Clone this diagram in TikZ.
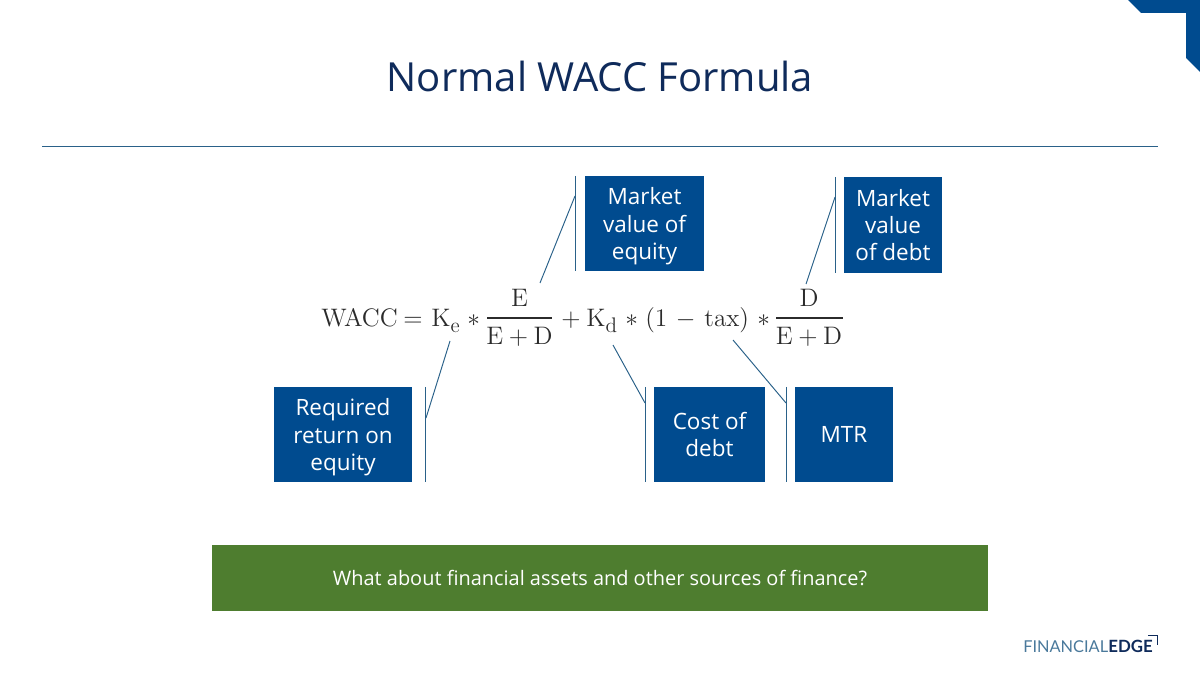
\documentclass[tikz,border=0pt]{standalone}
\usepackage[no-math]{fontspec}
\setmainfont{Open Sans}
\newfontfamily\logofont{Lato}
\definecolor{boxblue}{HTML}{004B8F}
\definecolor{leafgreen}{HTML}{4E7D2F}
\definecolor{navy}{HTML}{0F2B5B}
\definecolor{rulecol}{HTML}{2A6189}
\definecolor{formulacol}{HTML}{2B2B2B}
\newcommand{\nodp}[1]{\raisebox{0pt}[\height][0pt]{#1}}
\newcommand{\subtxt}[1]{\raisebox{-3.2pt}{\fontsize{11.5}{12}\selectfont$\mathrm{#1}$}}
\tikzset{
  labelbox/.style={fill=boxblue,text=white,inner sep=0,outer sep=0,align=center,font=\fontsize{12.8}{15.6}\selectfont},
  formula/.style={text=formulacol,inner sep=0,anchor=base west,font=\fontsize{14}{17}\selectfont},
  fracpart/.style={text=formulacol,inner sep=0,anchor=base,font=\fontsize{13.5}{17}\selectfont},
  barline/.style={draw=rulecol,line width=0.55pt},
}
\begin{document}
\begin{tikzpicture}[x=0.02cm,y=-0.02cm]
  \useasboundingbox (0,0) rectangle (1200,675);
  % corner and title
  \fill[boxblue] (1128,0) -- (1200,0) -- (1200,72) -- (1186,58) -- (1186,13) -- (1141,13) -- cycle;
  \node[text=navy,inner sep=0,font=\fontsize{22.8}{27}\selectfont] (title) at (600,76) {Normal WACC Formula};
  \coordinate (ruleL) at (42,146);
  \coordinate (ruleR) at (1158,146);
  \draw[barline,line width=0.4pt] (ruleL) -- (ruleR);
  % formula
  \node[formula] (wacc) at (321,327) {$\mathrm{WACC}$};
  \node[formula] (eq) at (403,327) {$=$};
  \node[formula] (ke) at (431,327) {$\mathrm{K}$\subtxt{e}};
  \node[formula] (star1) at (467,327) {$\ast$};
  \node[fracpart] (num1) at (519.5,307) {$\mathrm{E}$};
  \node[fracpart] (den1) at (519.5,345) {$\mathrm{E}+\mathrm{D}$};
  \coordinate (frac1L) at (487,318);
  \coordinate (frac1R) at (552,318);
  \draw[formulacol,line width=0.6pt] (frac1L) -- (frac1R);
  \node[formula] (plus) at (561,327) {$+$};
  \node[formula] (kd) at (586,327) {$\mathrm{K}$\subtxt{d}};
  \node[formula] (star2) at (625,327) {$\ast$};
  \node[formula] (tax) at (645,327) {$(1\kern1.7pt-\kern1.7pt\mathrm{tax})$};
  \node[formula] (star3) at (757,327) {$\ast$};
  \node[fracpart] (num2) at (809,307) {$\mathrm{D}$};
  \node[fracpart] (den2) at (809,345) {$\mathrm{E}+\mathrm{D}$};
  \coordinate (frac2L) at (776,318);
  \coordinate (frac2R) at (843,318);
  \draw[formulacol,line width=0.6pt] (frac2L) -- (frac2R);
  % boxes
  \node[labelbox,minimum width=2.38cm,minimum height=1.9cm] (mve) at (644.5,223.5) {Market\\value of\\\nodp{equity}};
  \node[labelbox,minimum width=1.96cm,minimum height=1.92cm] (mvd) at (893,225) {Market\\value\\of debt};
  \node[labelbox,minimum width=2.76cm,minimum height=1.9cm] (req) at (343,434.5) {Required\\return on\\\nodp{equity}};
  \node[labelbox,minimum width=2.22cm,minimum height=1.9cm] (cod) at (709.5,434.5) {Cost of\\debt};
  \node[labelbox,minimum width=1.96cm,minimum height=1.9cm] (mtr) at (844,434.5) {MTR};
  % bars
  \coordinate (mveT) at (575,176);
  \coordinate (mveB) at (575,271);
  \coordinate (mvdT) at (835,177);
  \coordinate (mvdB) at (835,273);
  \coordinate (reqT) at (425,387);
  \coordinate (reqB) at (425,482);
  \coordinate (codT) at (645,387);
  \coordinate (codB) at (645,482);
  \coordinate (mtrT) at (786,387);
  \coordinate (mtrB) at (786,482);
  \draw[barline] (mveT) -- (mveB);
  \draw[barline] (mvdT) -- (mvdB);
  \draw[barline] (reqT) -- (reqB);
  \draw[barline] (codT) -- (codB);
  \draw[barline] (mtrT) -- (mtrB);
  % connectors
  \coordinate (mveA) at (540,283);
  \coordinate (mveC) at (575,196);
  \coordinate (mvdA) at (806,284);
  \coordinate (mvdC) at (835,197);
  \coordinate (reqA) at (450,341);
  \coordinate (reqC) at (426,418);
  \coordinate (codA) at (613,345);
  \coordinate (codC) at (645,403);
  \coordinate (mtrA) at (733,340);
  \coordinate (mtrC) at (786,403);
  \draw[barline] (mveA) -- (mveC); % E -- equity
  \draw[barline] (mvdA) -- (mvdC); % D -- debt
  \draw[barline] (reqA) -- (reqC); % Ke -- required
  \draw[barline] (codA) -- (codC); % Kd -- cost
  \draw[barline] (mtrA) -- (mtrC); % tax -- MTR
  % green bar
  \node[fill=leafgreen,text=white,inner sep=0,minimum width=15.52cm,minimum height=1.32cm,font=\fontsize{11.35}{15}\selectfont] (question) at (600,578) {What about financial assets and other sources of finance?};
  % logo
  \node[anchor=base west,inner sep=0,text=rulecol!85,font=\logofont\fontsize{9.3}{12}\selectfont] (logoA) at (1023,652) {FINANCIAL};
  \node[anchor=base west,inner sep=0,text=navy,font=\logofont\bfseries\fontsize{9.6}{12}\selectfont] (logoB) at (1108,652) {EDGE};
  \coordinate (logoS) at (1148,635.5);
  \coordinate (logoM) at (1157.5,635.5);
  \coordinate (logoE) at (1157.5,645);
  \draw[navy,line width=1pt] (logoS) -- (logoM) -- (logoE);
\end{tikzpicture}
\end{document}
